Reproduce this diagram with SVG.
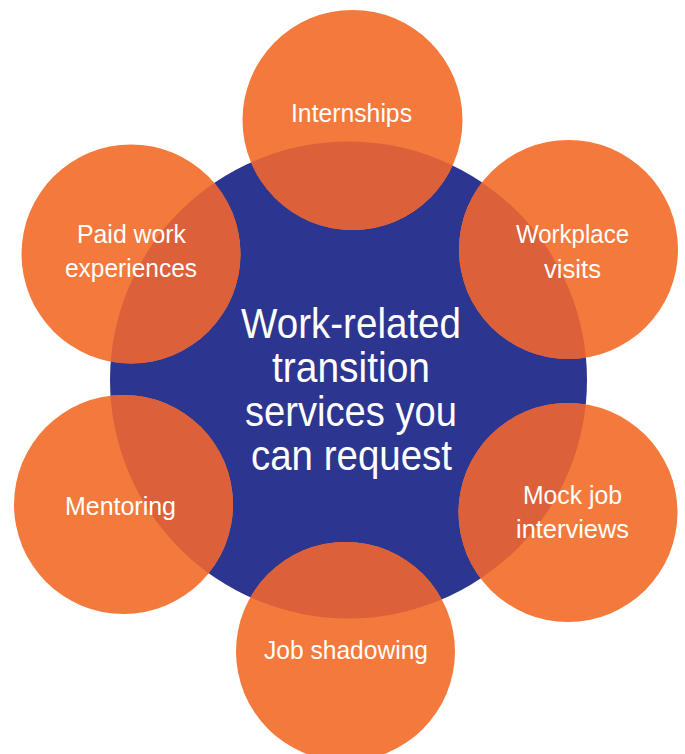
<svg xmlns="http://www.w3.org/2000/svg" width="685" height="754" viewBox="0 0 685 754">
<style>
.outer{fill:#F37A3C}
.ov{fill:#DC6039}
.lbl{font-family:"Liberation Sans",Arial,sans-serif;font-size:26px;fill:#FFFFFF;text-anchor:middle}
.ctr{font-family:"Liberation Sans",Arial,sans-serif;font-size:43px;fill:#FFFFFF;text-anchor:middle}
</style>
<defs>
<clipPath id="hub"><circle cx="348.5" cy="380" r="238.5"/></clipPath>
</defs>
<rect width="685" height="754" fill="#FFFFFF"/>
<g id="center">
<circle cx="348.5" cy="380" r="238.5" fill="#2C3590"/>
<text class="ctr" x="351" y="338" textLength="220" lengthAdjust="spacingAndGlyphs">Work-related</text>
<text class="ctr" x="351" y="382" textLength="158" lengthAdjust="spacingAndGlyphs">transition</text>
<text class="ctr" x="351" y="426" textLength="212" lengthAdjust="spacingAndGlyphs">services you</text>
<text class="ctr" x="351.5" y="470" textLength="201" lengthAdjust="spacingAndGlyphs">can request</text>
</g>
<g id="connectors"/>
<g id="internships">
<circle class="outer" cx="352.5" cy="120" r="110"/>
<circle class="ov" cx="352.5" cy="120" r="110" clip-path="url(#hub)"/>
<text class="lbl" x="351.5" y="122" textLength="121" lengthAdjust="spacingAndGlyphs">Internships</text>
</g>
<g id="workplace-visits">
<circle class="outer" cx="568.5" cy="249.5" r="109.5"/>
<circle class="ov" cx="568.5" cy="249.5" r="109.5" clip-path="url(#hub)"/>
<text class="lbl" x="572.5" y="243" textLength="113" lengthAdjust="spacingAndGlyphs">Workplace</text>
<text class="lbl" x="572.5" y="278" textLength="57" lengthAdjust="spacingAndGlyphs">visits</text>
</g>
<g id="paid-work">
<circle class="outer" cx="131" cy="254" r="109.5"/>
<circle class="ov" cx="131" cy="254" r="109.5" clip-path="url(#hub)"/>
<text class="lbl" x="131.5" y="243" textLength="109" lengthAdjust="spacingAndGlyphs">Paid work</text>
<text class="lbl" x="131" y="277" textLength="132" lengthAdjust="spacingAndGlyphs">experiences</text>
</g>
<g id="mentoring">
<circle class="outer" cx="123.5" cy="504.5" r="109.5"/>
<circle class="ov" cx="123.5" cy="504.5" r="109.5" clip-path="url(#hub)"/>
<text class="lbl" x="120.5" y="515" textLength="111" lengthAdjust="spacingAndGlyphs">Mentoring</text>
</g>
<g id="mock-job-interviews">
<circle class="outer" cx="568" cy="512.5" r="109.5"/>
<circle class="ov" cx="568" cy="512.5" r="109.5" clip-path="url(#hub)"/>
<text class="lbl" x="572.5" y="504" textLength="99" lengthAdjust="spacingAndGlyphs">Mock job</text>
<text class="lbl" x="572.5" y="538" textLength="113" lengthAdjust="spacingAndGlyphs">interviews</text>
</g>
<g id="job-shadowing">
<circle class="outer" cx="345.5" cy="651.5" r="109.5"/>
<circle class="ov" cx="345.5" cy="651.5" r="109.5" clip-path="url(#hub)"/>
<text class="lbl" x="346" y="659" textLength="164" lengthAdjust="spacingAndGlyphs">Job shadowing</text>
</g>
</svg>
